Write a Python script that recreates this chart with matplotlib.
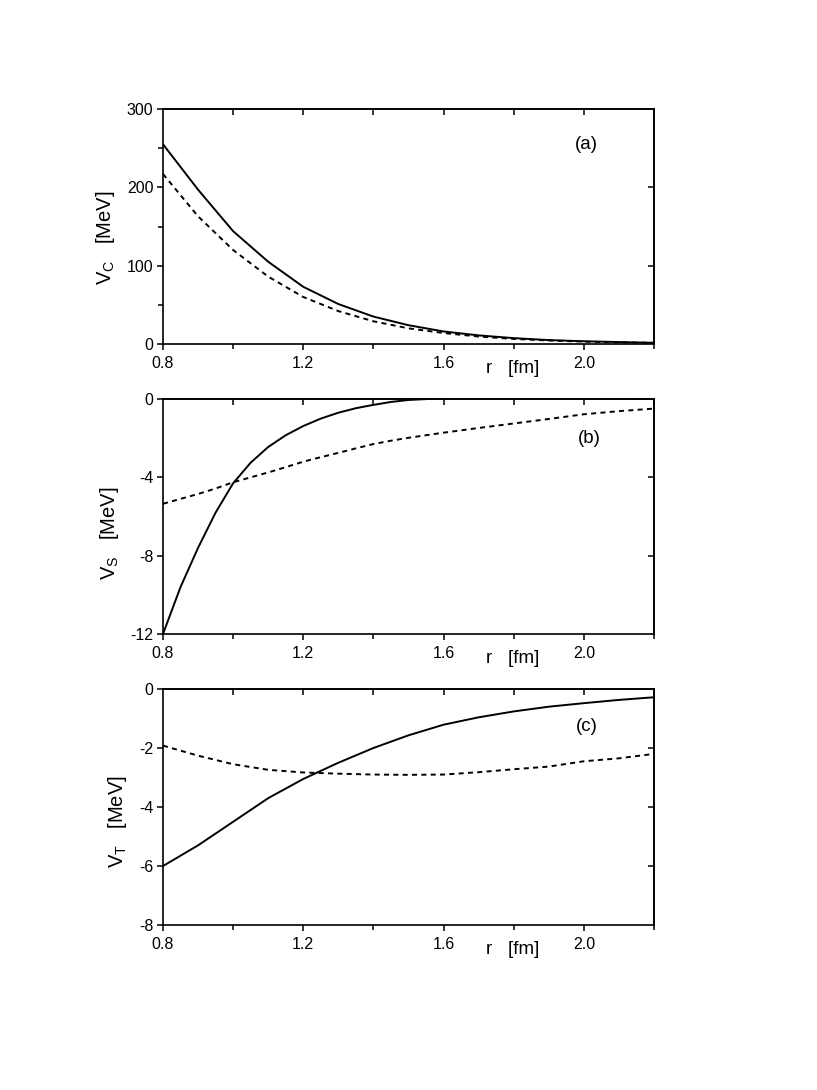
import numpy as np
import matplotlib
matplotlib.use("Agg")
import matplotlib.pyplot as plt
from matplotlib.ticker import FixedLocator

plt.rcParams['font.family'] = ['Liberation Sans', 'DejaVu Sans']
plt.rcParams['mathtext.fontset'] = 'custom'
plt.rcParams['mathtext.rm'] = 'Liberation Sans'

r = [0.8, 0.9, 1.0, 1.1, 1.2, 1.3, 1.4, 1.5, 1.6, 1.7, 1.8, 1.9, 2.0, 2.1, 2.2]

vc_solid = [255, 197, 144, 105, 73, 51, 35, 24, 16, 11, 7.5, 5, 3.5, 2.5, 1.5]
vc_dash = [217, 163, 120, 86, 60, 42, 29, 20, 14, 9.5, 6.5, 4.5, 3, 2, 1.5]

r_s = [0.8, 0.85, 0.9, 0.95, 1.0, 1.05, 1.1, 1.15, 1.2, 1.25, 1.3, 1.35, 1.4, 1.45, 1.5,
       1.6, 1.7, 1.8, 1.9, 2.0, 2.1, 2.2]
vs_solid = [-12, -9.6, -7.6, -5.8, -4.3, -3.25, -2.45, -1.85, -1.38, -1.0, -0.7, -0.47,
            -0.3, -0.15, -0.05, 0.04, 0.07, 0.07, 0.06, 0.05, 0.03, 0.0]
vs_dash = [-5.35, -5.1, -4.85, -4.57, -4.25, -4.0, -3.75, -3.48, -3.2, -2.97, -2.75, -2.52,
           -2.3, -2.13, -1.98, -1.72, -1.48, -1.25, -1.02, -0.78, -0.62, -0.49]

vt_solid = [-6.0, -5.3, -4.5, -3.7, -3.05, -2.5, -2.0, -1.57, -1.21, -0.96, -0.76, -0.6, -0.48, -0.37, -0.28]
vt_dash = [-1.92, -2.26, -2.55, -2.74, -2.83, -2.87, -2.9, -2.91, -2.9, -2.82, -2.72, -2.63, -2.45, -2.35, -2.2]

panels = [
    dict(x=r, solid=vc_solid, dash=vc_dash, ylim=(0, 300), ymaj=[0, 100, 200, 300],
         ymin=[50, 150, 250], yright=[100, 200], ylabel=r'V$_\mathrm{C}$   [MeV]', tag='(a)',
         tagpos=(0.863, 0.847), ly=0.453),
    dict(x=r_s, solid=vs_solid, dash=vs_dash, ylim=(-12, 0), ymaj=[-12, -8, -4, 0],
         ymin=[], yright=[-8, -4], ylabel=r'V$_\mathrm{S}$   [MeV]', tag='(b)',
         tagpos=(0.868, 0.834), ly=0.43),
    dict(x=r, solid=vt_solid, dash=vt_dash, ylim=(-8, 0), ymaj=[-8, -6, -4, -2, 0],
         ymin=[], yright=[-6, -4, -2], ylabel=r'V$_\mathrm{T}$   [MeV]', tag='(c)',
         tagpos=(0.863, 0.839), ly=0.436),
]

fig = plt.figure(figsize=(8.17, 10.90), dpi=100)
left = 163 / 817
width = 491 / 817
tops = [109, 399, 689]
bottoms = [344, 634, 925]

for p, t, b in zip(panels, tops, bottoms):
    ax = fig.add_axes([left, 1 - b / 1090, width, (b - t) / 1090])
    ax.plot(p['x'], p['solid'], color='black', lw=1.4, solid_joinstyle='round')
    ax.plot(p['x'], p['dash'], color='black', lw=1.4, linestyle=(0, (2.6, 2.2)))
    ax.set_xlim(0.8, 2.2)
    ax.set_ylim(*p['ylim'])
    ax.xaxis.set_major_locator(FixedLocator([0.8, 1.2, 1.6, 2.0]))
    ax.xaxis.set_minor_locator(FixedLocator([1.0, 1.4, 1.8, 2.2]))
    ax.set_xticklabels(['0.8', '1.2', '1.6', '2.0'])
    ax.yaxis.set_major_locator(FixedLocator(p['ymaj']))
    ax.yaxis.set_minor_locator(FixedLocator(p['ymin']))
    ax.set_yticklabels([str(v) for v in p['ymaj']])
    ax.tick_params(which='major', direction='out', length=4.5, width=1.1, labelsize=11.5)
    ax.tick_params(axis='x', which='major', pad=4)
    ax.tick_params(axis='y', which='major', pad=2.5)
    ax.tick_params(which='minor', direction='out', length=3.5, width=1.1)
    for s in ax.spines.values():
        s.set_linewidth(1.2)
    sx = ax.secondary_xaxis('top')
    sx.xaxis.set_major_locator(FixedLocator([1.0, 1.2, 1.4, 1.6, 1.8, 2.0]))
    sx.tick_params(direction='in', length=4.5, width=1.1, labeltop=False)
    sx.spines['top'].set_linewidth(1.2)
    sy = ax.secondary_yaxis('right')
    sy.yaxis.set_major_locator(FixedLocator(p['yright']))
    sy.tick_params(direction='in', length=4.5, width=1.1, labelright=False)
    sy.spines['right'].set_linewidth(1.2)
    ax.text(p['tagpos'][0], p['tagpos'][1], p['tag'], transform=ax.transAxes,
            ha='center', va='center', fontsize=13.5)
    ax.text(0.712, -0.103, r'r   [fm]', transform=ax.transAxes, ha='center', va='center',
            fontsize=13.5)
    ax.set_ylabel(p['ylabel'], fontsize=14.5, labelpad=7)
    ax.yaxis.label.set_y(p['ly'])

fig.savefig('out.png', dpi=100)
